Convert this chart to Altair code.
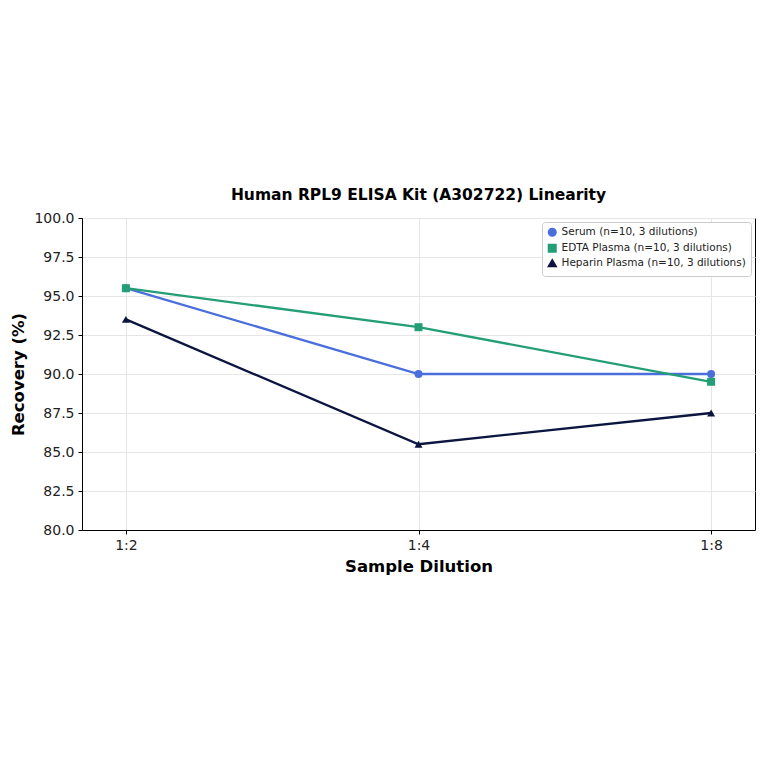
import altair as alt
import pandas as pd

dilutions = ["1:2", "1:4", "1:8"]
series_names = ["Serum (n=10, 3 dilutions)", "EDTA Plasma (n=10, 3 dilutions)", "Heparin Plasma (n=10, 3 dilutions)"]
serum = [95.5, 90.0, 90.0]
edta = [95.5, 93.0, 89.5]
heparin = [93.5, 85.5, 87.5]
colors = ["#4a6fdc", "#239e77", "#0b1540"]
shapes = ["circle", "square", "triangle-up"]
y_ticks = [80.0, 82.5, 85.0, 87.5, 90.0, 92.5, 95.0, 97.5, 100.0]

rows = []
for name, vals in zip(series_names, [serum, edta, heparin]):
    for i, (d, v) in enumerate(zip(dilutions, vals)):
        rows.append({"Dilution": d, "Recovery": v, "Series": name, "order": series_names.index(name)})
df = pd.DataFrame(rows)

font = "DejaVu Sans"

base = alt.Chart(df).encode(
    x=alt.X("Dilution:O", sort=dilutions,
            scale=alt.Scale(type="point", padding=0.15),
            axis=alt.Axis(title="Sample Dilution", labelAngle=0, grid=True)),
    y=alt.Y("Recovery:Q", scale=alt.Scale(domain=[80, 100], nice=False, zero=False),
            axis=alt.Axis(title="Recovery (%)", values=y_ticks, format=".1f")),
    color=alt.Color("Series:N", sort=series_names,
                    scale=alt.Scale(domain=series_names, range=colors),
                    legend=alt.Legend(title=None, orient="top-right", symbolStrokeWidth=2)),
    shape=alt.Shape("Series:N", sort=series_names,
                    scale=alt.Scale(domain=series_names, range=shapes),
                    legend=alt.Legend(title=None, orient="top-right")),
    detail="Series:N",
    order=alt.Order("order:Q"),
)

lines = base.mark_line(strokeWidth=2.3, point=alt.OverlayMarkDef(filled=True, size=64, opacity=1))

chart = lines.properties(
    width=673, height=312,
    title=alt.TitleParams("Human RPL9 ELISA Kit (A302722) Linearity", font=font, fontSize=15.5,
                          fontWeight="bold", color="black", offset=8),
    autosize=alt.AutoSizeParams(type="none"),
    padding={"left": 74, "top": 210, "right": 1, "bottom": 222},
).configure_view(
    stroke="black", strokeWidth=1
).configure_axis(
    labelFont=font, labelFontSize=14, labelColor="#222222",
    titleFont=font, titleFontSize=16.5, titleFontWeight="bold", titleColor="black",
    domainColor="black", tickColor="black", tickSize=4,
    gridColor="#e6e6e6", gridOpacity=1, labelPadding=4,
).configure_axisY(titlePadding=7).configure_axisX(titlePadding=6).configure_legend(
    labelFont=font, labelFontSize=10.5, labelColor="#222222",
    strokeColor="#cccccc", fillColor="white", padding=5, cornerRadius=3,
    symbolSize=50, rowPadding=0, offset=4, labelLimit=300,
)

chart.save("out.html", embed_options={"renderer": "svg", "actions": False})
